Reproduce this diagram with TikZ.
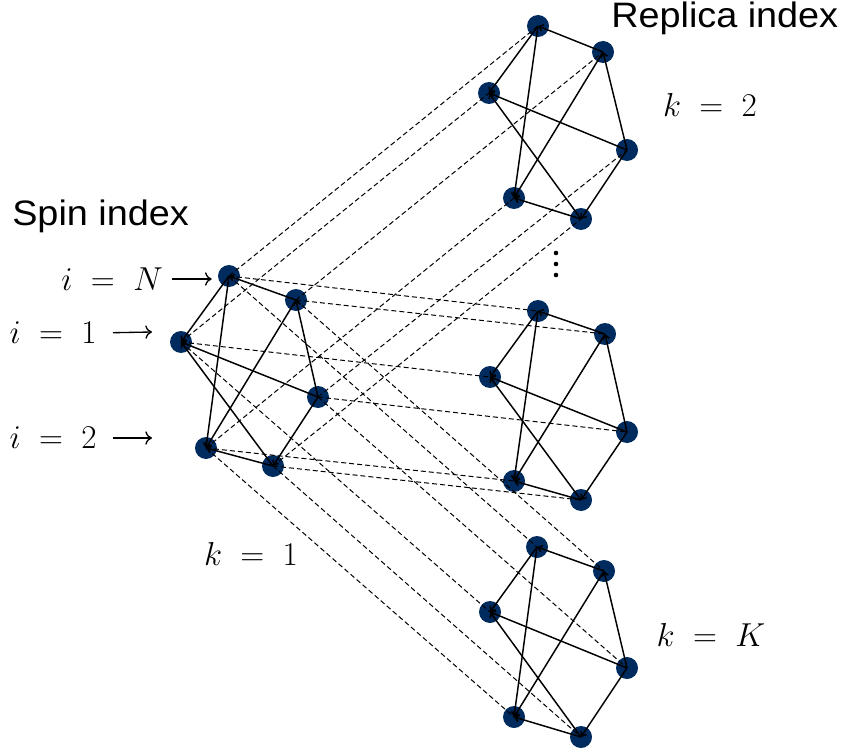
\documentclass[tikz,border=0pt]{standalone}
\usepackage{fontspec}
\usepackage{graphicx}
\setmainfont{Liberation Sans}
\usetikzlibrary{arrows.meta}
\definecolor{dotblue}{HTML}{002B5F}
\begin{document}
\begin{tikzpicture}[x=0.75pt,y=-0.75pt,
  spin/.style={circle,fill=dotblue,inner sep=0pt,minimum size=16.5pt},
  bond/.style={line width=1.1pt,-{Straight Barb[length=3pt,width=5pt]}},
  link/.style={line width=0.75pt,dash pattern=on 3.75pt off 2.25pt},
  lab/.style={font=\fontsize{27}{32}\selectfont,inner sep=0pt},
  title/.style={font=\fontsize{26.5}{30}\selectfont,inner sep=0pt},
  ptr/.style={line width=1pt,-{To[length=5pt,width=10pt]}}]
\path[use as bounding box] (0,0) rectangle (846,756);
% spins: graph 1 (k=1)
\node[spin] (g1A) at (229,276) {};
\node[spin] (g1B) at (296,300) {};
\node[spin] (g1C) at (181,342) {};
\node[spin] (g1D) at (318,397) {};
\node[spin] (g1E) at (206,448) {};
\node[spin] (g1F) at (273,466) {};
% graph 2 (k=2)
\node[spin] (g2A) at (538,26) {};
\node[spin] (g2B) at (603,52) {};
\node[spin] (g2C) at (489,93) {};
\node[spin] (g2D) at (627,150) {};
\node[spin] (g2E) at (514,198) {};
\node[spin] (g2F) at (581,219) {};
% graph 3
\node[spin] (g3A) at (538,311) {};
\node[spin] (g3B) at (605,334) {};
\node[spin] (g3C) at (490,377) {};
\node[spin] (g3D) at (627,432) {};
\node[spin] (g3E) at (514,481) {};
\node[spin] (g3F) at (581,500) {};
% graph 4 (k=K)
\node[spin] (g4A) at (537,547) {};
\node[spin] (g4B) at (604,571) {};
\node[spin] (g4C) at (490,612) {};
\node[spin] (g4D) at (627,668) {};
\node[spin] (g4E) at (514,717) {};
\node[spin] (g4F) at (581,737) {};
% replica links
\foreach \g in {2,3,4}{
  \foreach \s in {A,B,C,D,E,F}{
    \draw[link] (g1\s.center) -- (g\g\s.center);
  }
}
% bonds
\foreach \g in {1,2,3,4}{
  \draw[bond] (g\g B.center) -- (g\g A.center);
  \draw[bond] (g\g A.center) -- (g\g C.center);
  \draw[bond] (g\g A.center) -- (g\g E.center);
  \draw[bond] (g\g D.center) -- (g\g B.center);
  \draw[bond] (g\g B.center) -- (g\g E.center);
  \draw[bond] (g\g D.center) -- (g\g C.center);
  \draw[bond] (g\g F.center) -- (g\g C.center);
  \draw[bond] (g\g D.center) -- (g\g F.center);
  \draw[bond] (g\g F.center) -- (g\g E.center);
}
% vertical dots
\foreach \yy in {253,264,275} \fill (556,\yy) circle (2.3);
% labels
\node[title,anchor=west] (rep) at (611,18) {\scalebox{1.07}[1]{Replica index}};
\node[title,anchor=west] (spn) at (12,216) {\scalebox{1.07}[1]{Spin index}};
\node[lab] (k2) at (710,105) {$k\;=\;2$};
\node[lab] (kK) at (711,635) {$k\;=\;K$};
\node[lab] (k1) at (251,554) {$k\;=\;1$};
\node[lab,anchor=east] (iN) at (163,279) {$i\;=\;N$};
\node[lab,anchor=east] (i1) at (97,333) {$i\;=\;1$};
\node[lab,anchor=east] (i2) at (97,438) {$i\;=\;2$};
\coordinate (i1tip) at (152,332);
\coordinate (i2tip) at (152,438);
\draw[ptr,shorten <=6.75pt,shorten >=4.5pt] (iN.east) -- (iN.east -| g1A.west);
\draw[ptr,shorten <=12pt] (i1.east) -- (i1tip);
\draw[ptr,shorten <=12pt] (i2.east) -- (i2tip);
\end{tikzpicture}
\end{document}
